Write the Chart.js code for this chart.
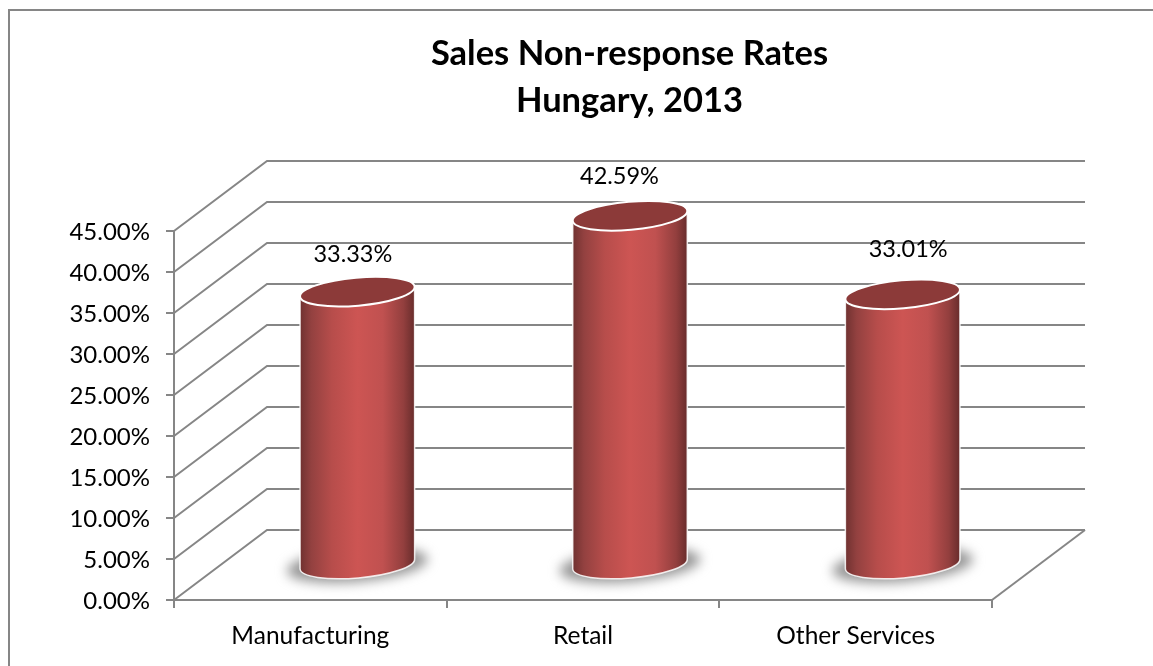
<!DOCTYPE html>
<html>
<head>
<meta charset="utf-8">
<script src="https://cdn.jsdelivr.net/npm/chart.js@4"></script>
<style>
  html, body { margin: 0; padding: 0; background: #fff; }
  #box { position: relative; width: 1153px; height: 666px; overflow: hidden; }
  #frame { position: absolute; left: 8px; top: 9px; width: 1200px; height: 700px; border: 2px solid #868686; box-sizing: border-box; }
  canvas { position: absolute; left: 0; top: 0; }
</style>
</head>
<body>
<div id="box">
  <div id="frame"></div>
  <canvas id="chart" width="1153" height="666"></canvas>
</div>
<script>
// Data
const categories = ['Manufacturing', 'Retail', 'Other Services'];
const rates = [33.33, 42.59, 33.01];
const rateLabels = ['33.33%', '42.59%', '33.01%'];
const yTickLabels = ['0.00%', '5.00%', '10.00%', '15.00%', '20.00%', '25.00%', '30.00%', '35.00%', '40.00%', '45.00%'];
const titleLines = ['Sales Non-response Rates', 'Hungary, 2013'];

// fake 3d depth of the box
const DEPTH_X = 93;
const DEPTH_Y = 70;
const GRID = '#868686';
const FONT = 'Lato, Carlito, sans-serif';

// label nudges, the original does not centre them on the bars
const labelDx = [-4, -10, 6];
const labelDy = [-37, -39, -45];

function drawWalls(chart) {
  const ctx = chart.ctx;
  const y = chart.scales.y;
  const { left, right, bottom } = chart.chartArea;
  ctx.save();
  ctx.strokeStyle = GRID;
  ctx.lineWidth = 2;
  y.ticks.forEach(t => {
    const py = y.getPixelForValue(t.value);
    ctx.beginPath();
    ctx.moveTo(left, py);
    ctx.lineTo(left + DEPTH_X, py - DEPTH_Y);
    ctx.lineTo(right + DEPTH_X, py - DEPTH_Y);
    ctx.stroke();
  });
  // floor, right edge
  ctx.beginPath();
  ctx.moveTo(right, bottom);
  ctx.lineTo(right + DEPTH_X, bottom - DEPTH_Y);
  ctx.stroke();
  ctx.restore();
}

function drawCylinder(ctx, bar) {
  const cx = bar.x + DEPTH_X / 2 + 0.5;
  const topY = bar.y - DEPTH_Y / 2;
  const baseY = bar.base - DEPTH_Y / 2;
  const rx = bar.width / 2;
  const ry = 14;
  const tilt = -5 * Math.PI / 180;
  const ex = rx * Math.cos(tilt);
  const ey = rx * Math.sin(tilt);

  // floor shadow
  ctx.save();
  ctx.filter = 'blur(6px)';
  ctx.fillStyle = '#969696';
  ctx.beginPath();
  ctx.ellipse(cx, baseY + 1, rx + 13, ry + 3, tilt, 0, Math.PI * 2);
  ctx.fill();
  ctx.restore();

  // body
  const grad = ctx.createLinearGradient(cx - rx, 0, cx + rx, 0);
  grad.addColorStop(0, '#6f3130');
  grad.addColorStop(0.1, '#934140');
  grad.addColorStop(0.28, '#b74d4b');
  grad.addColorStop(0.5, '#cd5553');
  grad.addColorStop(0.72, '#c05150');
  grad.addColorStop(0.9, '#933f3e');
  grad.addColorStop(1, '#672c2b');
  ctx.save();
  ctx.beginPath();
  ctx.moveTo(cx - ex, topY - ey);
  ctx.lineTo(cx - ex, baseY - ey);
  ctx.ellipse(cx, baseY, rx, ry, tilt, Math.PI, 0, true);
  ctx.lineTo(cx + ex, topY + ey);
  ctx.closePath();
  ctx.fillStyle = grad;
  ctx.fill();
  ctx.strokeStyle = 'rgba(255,255,255,0.85)';
  ctx.lineWidth = 1.5;
  ctx.stroke();

  // top cap
  ctx.beginPath();
  ctx.ellipse(cx, topY, rx, ry, tilt, 0, Math.PI * 2);
  ctx.fillStyle = '#8c3a39';
  ctx.fill();
  ctx.strokeStyle = '#fff';
  ctx.lineWidth = 2;
  ctx.stroke();
  ctx.restore();
}

const cylinderPlugin = {
  id: 'cylinders',
  afterLayout(chart) {
    // title is centred over front + depth, not just the front
    chart.titleBlock.left += DEPTH_X / 2;
    chart.titleBlock.right += DEPTH_X / 2;
  },
  beforeDatasetDraw(chart, args) {
    const ctx = chart.ctx;
    drawWalls(chart);
    args.meta.data.forEach((bar, i) => {
      drawCylinder(ctx, bar);
      ctx.save();
      ctx.font = '23.5px ' + FONT;
      ctx.fillStyle = '#000';
      ctx.textAlign = 'center';
      ctx.textBaseline = 'middle';
      ctx.fillText(rateLabels[i], bar.x + DEPTH_X / 2 + labelDx[i], bar.y - DEPTH_Y / 2 + labelDy[i]);
      ctx.restore();
    });
    return false; // bars are drawn above
  }
};

new Chart(document.getElementById('chart').getContext('2d'), {
  type: 'bar',
  data: {
    labels: categories,
    datasets: [{ label: 'Non-response rate', data: rates, backgroundColor: '#c0504d', barThickness: 115 }]
  },
  plugins: [cylinderPlugin],
  options: {
    responsive: false,
    animation: false,
    layout: { padding: { top: 0, left: 0, right: 161, bottom: 0 } },
    plugins: {
      legend: { display: false },
      tooltip: { enabled: false },
      title: {
        display: true,
        text: titleLines,
        fullSize: false,
        color: '#000',
        font: { family: FONT, size: 34.5, weight: 'bold', lineHeight: 47 / 34.5 },
        padding: { top: 30, bottom: 107 }
      }
    },
    scales: {
      x: {
        afterFit(scale) { scale.height = 66; },
        grid: { drawOnChartArea: false, drawTicks: true, tickLength: 8, color: GRID, lineWidth: 2, offset: true },
        border: { color: GRID, width: 2 },
        ticks: { color: '#000', padding: 13, font: { family: FONT, size: 24.5 } }
      },
      y: {
        min: 0,
        max: 45,
        afterFit(scale) { scale.width = 174; },
        grid: { drawOnChartArea: false, drawTicks: true, tickLength: 8, color: GRID, lineWidth: 2 },
        border: { color: GRID, width: 2 },
        ticks: {
          stepSize: 5,
          color: '#000',
          padding: 16,
          labelOffset: 1.5,
          font: { family: FONT, size: 24 },
          callback: (v, i) => yTickLabels[i]
        }
      }
    }
  }
});
</script>
</body>
</html>
